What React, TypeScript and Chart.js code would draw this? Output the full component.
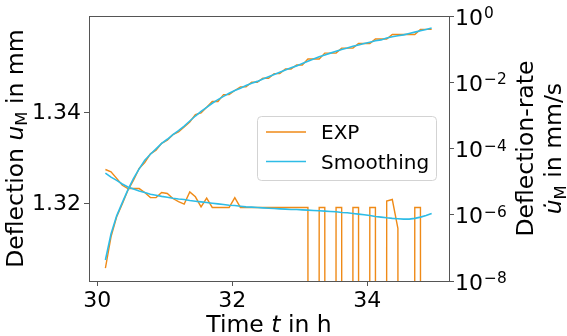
import React, { useEffect, useRef } from 'react';
import { Chart, registerables } from 'chart.js';

Chart.register(...registerables);

// ---------- data ----------
const timeH = [
  30.12, 30.203, 30.287, 30.37, 30.453, 30.537, 30.62, 30.703, 30.787, 30.87,
  30.953, 31.037, 31.12, 31.203, 31.287, 31.37, 31.453, 31.537, 31.62, 31.703,
  31.787, 31.87, 31.953, 32.037, 32.12, 32.203, 32.287, 32.37, 32.453, 32.537,
  32.62, 32.703, 32.787, 32.87, 32.953, 33.037, 33.12, 33.203, 33.287, 33.37,
  33.453, 33.537, 33.62, 33.703, 33.787, 33.87, 33.953, 34.037, 34.12, 34.203,
  34.287, 34.37, 34.453, 34.537, 34.62, 34.703, 34.787, 34.87, 34.953,
];

const expDeflection = [
  1.3059, 1.3128, 1.3172, 1.3200, 1.3230, 1.3252, 1.3278, 1.3291, 1.3310, 1.3318,
  1.3333, 1.3340, 1.3352, 1.3358, 1.3369, 1.3380, 1.3396, 1.3400, 1.3412, 1.3425,
  1.3425, 1.3440, 1.3440, 1.3449, 1.3457, 1.3457, 1.3467, 1.3467, 1.3476, 1.3476,
  1.3486, 1.3486, 1.3496, 1.3496, 1.3505, 1.3505, 1.3518, 1.3518, 1.3518, 1.3531,
  1.3531, 1.3531, 1.3542, 1.3542, 1.3542, 1.3552, 1.3552, 1.3552, 1.3562, 1.3562,
  1.3562, 1.3572, 1.3572, 1.3572, 1.3572, 1.3572, 1.3583, 1.3583, 1.3583,
];

const smoothDeflection = [
  1.3077, 1.3134, 1.3174, 1.3203, 1.3231, 1.3256, 1.3277, 1.3296, 1.3309, 1.3321,
  1.3333, 1.3342, 1.3352, 1.3361, 1.3371, 1.3382, 1.3393, 1.3403, 1.3412, 1.3421,
  1.3429, 1.3436, 1.3443, 1.3449, 1.3454, 1.3460, 1.3465, 1.3469, 1.3474, 1.3479,
  1.3484, 1.3489, 1.3494, 1.3499, 1.3503, 1.3508, 1.3513, 1.3518, 1.3523, 1.3527,
  1.3531, 1.3535, 1.3539, 1.3542, 1.3546, 1.3549, 1.3552, 1.3555, 1.3558, 1.3560,
  1.3564, 1.3567, 1.3569, 1.3571, 1.3574, 1.3577, 1.3580, 1.3583, 1.3586,
];

// deflection rate in mm/s (0 = no change between samples)
const expRate = [
  2.34e-5, 2.0e-5, 1.26e-5, 7.8e-6, 6.2e-6, 6.2e-6, 6.2e-6, 4.7e-6, 3.3e-6, 3.3e-6,
  4.7e-6, 4.4e-6, 3.1e-6, 2.5e-6, 2.1e-6, 4.9e-6, 3.5e-6, 1.74e-6, 3.2e-6, 1.67e-6,
  1.67e-6, 1.67e-6, 1.67e-6, 3.3e-6, 1.67e-6, 1.67e-6, 1.67e-6, 1.67e-6, 1.67e-6, 1.67e-6,
  1.67e-6, 1.67e-6, 1.67e-6, 1.67e-6, 1.67e-6, 1.67e-6, 1.67e-6, 0, 1.67e-6, 1.67e-6,
  0, 1.67e-6, 1.67e-6, 0, 1.67e-6, 1.67e-6, 0, 1.67e-6, 1.67e-6, 0,
  2.6e-6, 2.9e-6, 3.9e-7, 0, 0, 1.67e-6, 1.67e-6, 0, 0,
];

const smoothRate = [
  1.82e-5, 1.38e-5, 1.10e-5, 8.5e-6, 6.9e-6, 6.0e-6, 5.2e-6, 4.7e-6, 4.2e-6, 3.9e-6,
  3.6e-6, 3.4e-6, 3.16e-6, 3.0e-6, 2.9e-6, 2.7e-6, 2.57e-6, 2.45e-6, 2.34e-6, 2.24e-6,
  2.14e-6, 2.04e-6, 1.95e-6, 1.91e-6, 1.82e-6, 1.74e-6, 1.70e-6, 1.66e-6, 1.62e-6, 1.58e-6,
  1.55e-6, 1.51e-6, 1.48e-6, 1.45e-6, 1.45e-6, 1.41e-6, 1.38e-6, 1.35e-6, 1.32e-6, 1.29e-6,
  1.26e-6, 1.23e-6, 1.17e-6, 1.15e-6, 1.10e-6, 1.05e-6, 1.00e-6, 9.5e-7, 8.9e-7, 8.5e-7,
  8.1e-7, 7.8e-7, 7.6e-7, 7.4e-7, 7.4e-7, 7.8e-7, 8.5e-7, 9.5e-7, 1.10e-6,
];

const xTicks = [30, 32, 34];
const deflTicks = [1.32, 1.34];
const rateTicks = [1e0, 1e-2, 1e-4, 1e-6, 1e-8];
const rateTickExponents = ['0', '\u22122', '\u22124', '\u22126', '\u22128'];
const seriesNames = ['EXP', 'Smoothing'];

// ---------- styles ----------
const ORANGE = '#ef8a17';
const CYAN = '#2ebce6';
const SPINE = '#555555';
const FONT = '"DejaVu Sans"';
const TICK_SIZE = 22;
const TITLE_SIZE = 23.5;
const LEGEND_SIZE = 20;

type Piece = { t: string; italic?: boolean; sub?: boolean };

function drawRich(ctx: CanvasRenderingContext2D, pieces: Piece[], size: number, cx: number, cy: number, rotate: boolean) {
  const fontFor = (p: Piece) => `${p.italic ? 'italic ' : ''}${p.sub ? size * 0.7 : size}px ${FONT}`;
  const widths = pieces.map((p) => {
    ctx.font = fontFor(p);
    return ctx.measureText(p.t).width;
  });
  const total = widths.reduce((a, b) => a + b, 0);
  ctx.save();
  ctx.translate(cx, cy);
  if (rotate) ctx.rotate(-Math.PI / 2);
  ctx.textAlign = 'left';
  ctx.textBaseline = 'alphabetic';
  ctx.fillStyle = '#000';
  let x = -total / 2;
  pieces.forEach((p, i) => {
    ctx.font = fontFor(p);
    ctx.fillText(p.t, x, p.sub ? size * 0.2 : 0);
    x += widths[i];
  });
  ctx.restore();
}

const overlayPlugin = {
  id: 'overlay',
  afterDraw(chart: any) {
    const ctx: CanvasRenderingContext2D = chart.ctx;
    const a = chart.chartArea;
    ctx.save();
    // frame
    ctx.strokeStyle = SPINE;
    ctx.lineWidth = 1;
    ctx.strokeRect(Math.round(a.left) + 0.5, Math.round(a.top) + 0.5, Math.round(a.right - a.left), Math.round(a.bottom - a.top));

    // right log tick labels (10^n)
    const y1 = chart.scales.y1;
    rateTicks.forEach((v, i) => {
      const py = y1.getPixelForValue(v);
      const x0 = a.right + 6;
      ctx.fillStyle = '#000';
      ctx.textAlign = 'left';
      ctx.textBaseline = 'alphabetic';
      ctx.font = `${TICK_SIZE}px ${FONT}`;
      ctx.fillText('10', x0, py + 8.5);
      const w = ctx.measureText('10').width;
      ctx.font = `${TICK_SIZE * 0.7}px ${FONT}`;
      ctx.fillText(rateTickExponents[i], x0 + w + 1, py + 2);
    });

    // axis titles
    drawRich(ctx, [{ t: 'Time ' }, { t: 't', italic: true }, { t: ' in h' }], TITLE_SIZE, (a.left + a.right) / 2, 332, false);
    const cy = (a.top + a.bottom) / 2;
    drawRich(ctx, [{ t: 'Deflection ' }, { t: 'u', italic: true }, { t: 'M', sub: true }, { t: ' in mm' }], TITLE_SIZE, 22.5, cy, true);
    drawRich(ctx, [{ t: 'Deflection-rate' }], TITLE_SIZE, 533, cy, true);
    drawRich(ctx, [{ t: 'u\u0307', italic: true }, { t: 'M', sub: true }, { t: ' in mm/s' }], TITLE_SIZE, 561, cy, true);

    // legend
    const lx = 257.5, ly = 116.5, lw = 179, lh = 64, r = 4;
    ctx.beginPath();
    ctx.moveTo(lx + r, ly);
    ctx.lineTo(lx + lw - r, ly);
    ctx.arcTo(lx + lw, ly, lx + lw, ly + r, r);
    ctx.lineTo(lx + lw, ly + lh - r);
    ctx.arcTo(lx + lw, ly + lh, lx + lw - r, ly + lh, r);
    ctx.lineTo(lx + r, ly + lh);
    ctx.arcTo(lx, ly + lh, lx, ly + lh - r, r);
    ctx.lineTo(lx, ly + r);
    ctx.arcTo(lx, ly, lx + r, ly, r);
    ctx.closePath();
    ctx.fillStyle = 'rgba(255,255,255,0.8)';
    ctx.fill();
    ctx.strokeStyle = '#d3d3d3';
    ctx.lineWidth = 1;
    ctx.stroke();

    const rows = [
      { name: seriesNames[0], color: ORANGE, y: 132 },
      { name: seriesNames[1], color: CYAN, y: 161.5 },
    ];
    rows.forEach((row) => {
      ctx.strokeStyle = row.color;
      ctx.lineWidth = 1.6;
      ctx.beginPath();
      ctx.moveTo(266, row.y);
      ctx.lineTo(306, row.y);
      ctx.stroke();
      ctx.fillStyle = '#000';
      ctx.font = `${LEGEND_SIZE}px ${FONT}`;
      ctx.textAlign = 'left';
      ctx.textBaseline = 'alphabetic';
      ctx.fillText(row.name, 321, row.y + 7);
    });
    ctx.restore();
  },
};

export default function App() {
  const ref = useRef<HTMLCanvasElement | null>(null);

  useEffect(() => {
    if (!ref.current) return;
    const pts = (ys: number[]) => timeH.map((t, i) => ({ x: t, y: ys[i] }));
    // zero rates lie at -infinity on the log axis: place them far below the axis
    const rateZeroClip = (ys: number[]) => ys.map((v) => (v > 0 ? v : 1e-300));

    const tickFont = { family: FONT, size: TICK_SIZE };
    const grid = { drawOnChartArea: false, drawTicks: true, tickLength: 5, tickColor: SPINE, tickWidth: 1 };

    const chart = new Chart(ref.current, {
      type: 'line',
      data: {
        datasets: [
          { label: 'Smoothing', data: pts(smoothDeflection), yAxisID: 'y', borderColor: CYAN, borderWidth: 1.6, pointRadius: 0, order: 0 },
          { label: 'Smoothing rate', data: pts(smoothRate), yAxisID: 'y1', borderColor: CYAN, borderWidth: 1.6, pointRadius: 0, order: 0 },
          { label: 'EXP', data: pts(expDeflection), yAxisID: 'y', borderColor: ORANGE, borderWidth: 1.4, pointRadius: 0, order: 1 },
          { label: 'EXP rate', data: pts(rateZeroClip(expRate)), yAxisID: 'y1', borderColor: ORANGE, borderWidth: 1.4, pointRadius: 0, order: 1 },
        ] as any,
      },
      options: {
        animation: false,
        responsive: false,
        devicePixelRatio: 1,
        layout: { padding: { top: 16, left: 0, right: 0, bottom: 0 } },
        plugins: { legend: { display: false }, tooltip: { enabled: false } },
        scales: {
          x: {
            type: 'linear',
            min: 29.877,
            max: 35.21,
            afterBuildTicks: (s: any) => { s.ticks = xTicks.map((v) => ({ value: v })); },
            afterFit: (s: any) => { s.height = 55; },
            ticks: { font: tickFont, color: '#000', padding: 2, maxRotation: 0, callback: (v: any) => String(v) },
            grid,
            border: { display: false },
          },
          y: {
            type: 'linear',
            position: 'left',
            min: 1.3031,
            max: 1.3612,
            afterBuildTicks: (s: any) => { s.ticks = deflTicks.map((v) => ({ value: v })); },
            afterFit: (s: any) => { s.width = 89; },
            ticks: { font: tickFont, color: '#000', padding: 3, callback: (v: any) => Number(v).toFixed(2) },
            grid,
            border: { display: false },
          },
          y1: {
            type: 'logarithmic',
            position: 'right',
            min: 1e-8,
            max: 1,
            afterBuildTicks: (s: any) => { s.ticks = rateTicks.map((v) => ({ value: v })); },
            afterFit: (s: any) => { s.width = 118; },
            ticks: { display: false },
            grid,
            border: { display: false },
          },
        },
      } as any,
      plugins: [overlayPlugin],
    });
    return () => chart.destroy();
  }, []);

  return (
    <div style={{ position: 'fixed', left: 0, top: 0, width: 567, height: 336, background: '#fff' }}>
      <canvas ref={ref} width={567} height={336} style={{ display: 'block' }} />
    </div>
  );
}
